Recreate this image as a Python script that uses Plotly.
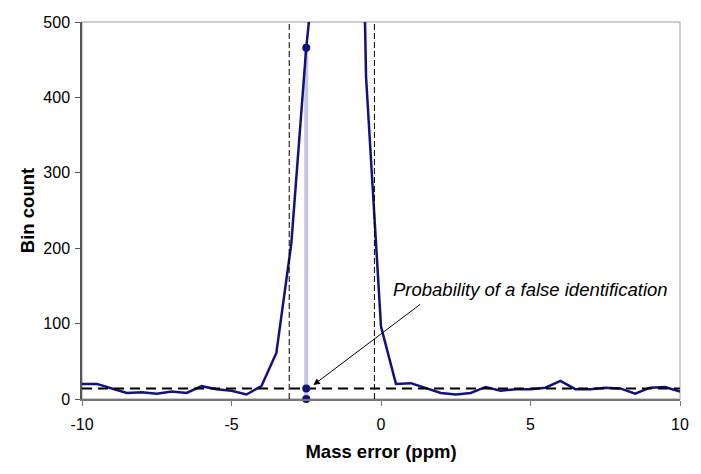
import plotly.graph_objects as go

# mass error bins (ppm) and counts per bin
mass_error = [-10.0, -9.5, -9.0, -8.5, -8.0, -7.5, -7.0, -6.5, -6.0, -5.5,
              -5.0, -4.5, -4.0, -3.5, -3.0, -2.5, -2.0, -1.5, -1.0, -0.5,
              0.0, 0.5, 1.0, 1.5, 2.0, 2.5, 3.0, 3.5, 4.0, 4.5,
              5.0, 5.5, 6.0, 6.5, 7.0, 7.5, 8.0, 8.5, 9.0, 9.5, 10.0]
bin_count = [20, 20, 14, 8, 9, 7, 10, 8, 17, 13,
             11, 6, 17, 61, 206, 466, 660, 1500, 1470, 427,
             96, 20, 21, 14, 8, 6, 8, 16, 11, 13,
             13, 15, 24, 13, 13, 15, 14, 7, 15, 16, 10]

x_ticks = [-10, -5, 0, 5, 10]
x_ticktext = ["-10", "-5", "0", "5", "10"]
y_ticks = [0, 100, 200, 300, 400, 500]

# background level and tolerance window
background = 14
window = [-3.07, -0.22]

# highlighted bin
probe_x = [-2.5, -2.5]
probe_y = [0, 466]
probe_pts = [0, 14, 466]

navy = "#12127f"
font = "Liberation Sans, Arial, sans-serif"

fig = go.Figure()

fig.add_trace(go.Scatter(x=probe_x, y=probe_y, mode="lines",
                         line=dict(color="#c6c6e4", width=4),
                         hoverinfo="skip", showlegend=False))
fig.add_trace(go.Scatter(x=mass_error, y=bin_count, mode="lines",
                         line=dict(color=navy, width=2.5),
                         showlegend=False))
fig.add_trace(go.Scatter(x=[-10, 10], y=[background, background], mode="lines",
                         line=dict(color="black", width=2, dash="10px,6px"),
                         showlegend=False))
for wx in window:
    fig.add_trace(go.Scatter(x=[wx, wx], y=[0, 500], mode="lines",
                             line=dict(color="black", width=1, dash="6px,3px"),
                             showlegend=False))
fig.add_trace(go.Scatter(x=[probe_x[0]] * len(probe_pts), y=probe_pts, mode="markers",
                         marker=dict(color=navy, size=8),
                         cliponaxis=False, showlegend=False))

# plot area frame
fig.add_shape(type="rect", xref="paper", yref="paper", x0=0, x1=1, y0=0, y1=1,
              line=dict(color="#bdbdbd", width=1.5), layer="below")

fig.add_annotation(x=5.0, y=145, text="<i>Probability of a false identification</i>",
                   showarrow=False, font=dict(family=font, size=18.5, color="black"))
fig.add_annotation(x=-2.26, y=18.6, ax=1.36, ay=127, axref="x", ayref="y",
                   text="", showarrow=True, arrowhead=2, arrowsize=1.3,
                   arrowwidth=1, arrowcolor="black")

# page body adds an 8px offset, so the figure is sized to fit the window
fig.update_layout(
    width=693, height=466,
    margin=dict(l=74, r=21, t=14, b=75),
    plot_bgcolor="white", paper_bgcolor="white",
    font=dict(family=font, size=16, color="black"),
    xaxis=dict(range=[-10, 10], tickvals=x_ticks, ticktext=x_ticktext, showgrid=False,
               zeroline=False, showline=True, linecolor="#777777", linewidth=1.5,
               ticks="outside", ticklen=5, tickcolor="#777777", ticklabelstandoff=5,
               automargin=False,
               title=dict(text="<b>Mass error (ppm)</b>", font=dict(size=18.5),
                          standoff=13)),
    yaxis=dict(range=[0, 500], tickvals=y_ticks, showgrid=False,
               zeroline=False, showline=True, linecolor="#555555", linewidth=1.5,
               ticks="outside", ticklen=5, tickcolor="#555555", ticklabelstandoff=2,
               automargin=False,
               title=dict(text="<b>Bin count</b>", font=dict(size=18.5), standoff=4)),
)

fig.write_html("out.html")
